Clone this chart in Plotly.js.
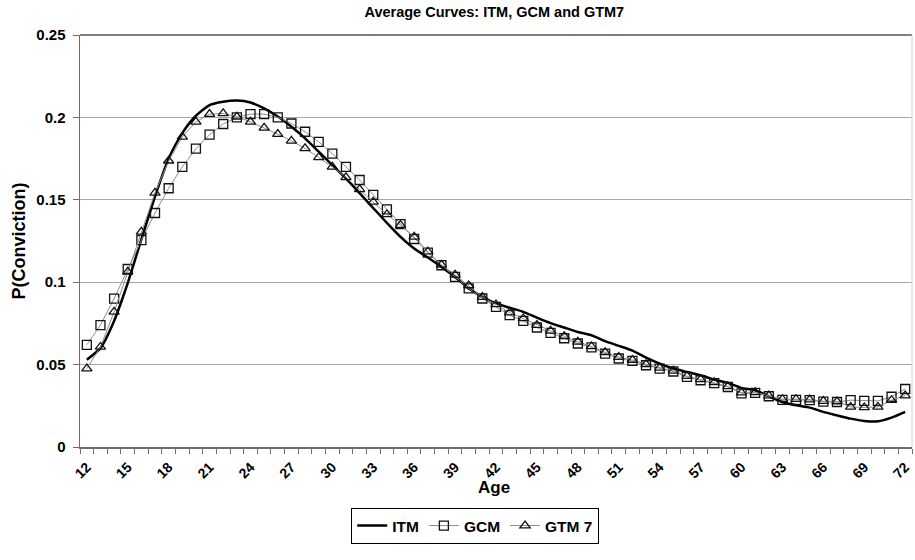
<!DOCTYPE html>
<html>
<head>
<meta charset="utf-8">
<script src="https://cdn.plot.ly/plotly-3.0.1.min.js"></script>
<style>html,body{margin:0;padding:0;background:#fff;}#chart{width:915px;height:560px;}</style>
</head>
<body>
<div id="chart"></div>
<script>
// Ages 12..72
var ages = [12,13,14,15,16,17,18,19,20,21,22,23,24,25,26,27,28,29,30,31,32,33,34,35,36,37,38,39,40,41,42,43,44,45,46,47,48,49,50,51,52,53,54,55,56,57,58,59,60,61,62,63,64,65,66,67,68,69,70,71,72];

var itm = [0.053,0.060,0.0765,0.0995,0.126,0.152,0.175,0.1905,0.201,0.2075,0.2095,0.2102,0.209,0.2055,0.2005,0.1943,0.1873,0.1792,0.171,0.163,0.154,0.145,0.136,0.1275,0.1204,0.115,0.1093,0.1032,0.0962,0.0911,0.0871,0.0845,0.082,0.0785,0.0752,0.0725,0.0698,0.0678,0.0642,0.0614,0.0585,0.0542,0.0506,0.0476,0.0455,0.0435,0.0409,0.0389,0.0358,0.0344,0.0308,0.0273,0.0253,0.0239,0.0213,0.0192,0.0172,0.0158,0.0156,0.0178,0.0213];

var gcm = [0.062,0.074,0.090,0.108,0.1255,0.142,0.157,0.170,0.181,0.1895,0.196,0.200,0.202,0.202,0.200,0.1963,0.1913,0.1852,0.178,0.170,0.162,0.153,0.1442,0.1352,0.1262,0.118,0.1103,0.1032,0.0962,0.0901,0.085,0.080,0.0765,0.0725,0.0692,0.066,0.0628,0.0604,0.0567,0.0537,0.0522,0.0496,0.0476,0.0458,0.0425,0.0405,0.0387,0.0364,0.0326,0.0328,0.0308,0.0286,0.0286,0.0284,0.0275,0.0273,0.0284,0.028,0.028,0.0305,0.0352];

var gtm7 = [0.0476,0.0607,0.082,0.1063,0.1305,0.1542,0.1737,0.1882,0.1973,0.202,0.2024,0.2004,0.1973,0.1937,0.1899,0.1858,0.1812,0.1757,0.170,0.1636,0.1563,0.1488,0.1411,0.1346,0.1275,0.1185,0.1105,0.1045,0.098,0.091,0.0865,0.0815,0.078,0.074,0.0705,0.0672,0.0638,0.061,0.0575,0.0545,0.0528,0.0502,0.048,0.0462,0.043,0.041,0.0392,0.0368,0.033,0.0332,0.0312,0.029,0.029,0.0288,0.0278,0.0276,0.0243,0.024,0.0243,0.0284,0.0312];

var xTickVals = [12,15,18,21,24,27,30,33,36,39,42,45,48,51,54,57,60,63,66,69,72];
var xTickText = ["12","15","18","21","24","27","30","33","36","39","42","45","48","51","54","57","60","63","66","69","72"];
var yTickVals = [0,0.05,0.1,0.15,0.2,0.25];
var yTickText = ["0","0.05","0.1","0.15","0.2","0.25"];

var FONT = "Liberation Sans, Arial, sans-serif";

var traces = [
  {x: ages, y: itm, name: "ITM", type: "scatter", mode: "lines",
   line: {color: "#000", width: 2.5, shape: "spline", smoothing: 0.6}},
  {x: ages, y: gcm, name: "GCM", type: "scatter", mode: "lines+markers",
   line: {color: "#8c8c8c", width: 1},
   marker: {symbol: "square-open", size: 9, color: "#111", line: {width: 1.3, color: "#111"}}},
  {x: ages, y: gtm7, name: "GTM 7", type: "scatter", mode: "lines+markers",
   line: {color: "#8c8c8c", width: 1},
   marker: {symbol: "triangle-up-open", size: 9, color: "#111", line: {width: 1.3, color: "#111"}}}
];

var layout = {
  width: 915, height: 560,
  margin: {l: 80, r: 3, t: 35, b: 113},
  paper_bgcolor: "#fff", plot_bgcolor: "#fff",
  font: {family: FONT, color: "#000", size: 12},
  title: {text: "Average Curves: ITM, GCM and GTM7", x: 0.498, xref: "paper", xanchor: "center", y: 0.978, yanchor: "middle",
          font: {family: FONT, size: 14.5, weight: "bold", color: "#000"}},
  xaxis: {
    range: [11.5, 72.5], tickmode: "array", tickvals: xTickVals, ticktext: xTickText,
    tickangle: -45, ticks: "", showgrid: false, zeroline: false,
    showline: true, linecolor: "#6e6e6e", linewidth: 1.5,
    ticklabelstandoff: 5,
    tickfont: {family: FONT, size: 14, weight: "bold"},
    minor: {ticks: "outside", tickmode: "linear", tick0: 11.5, dtick: 1, ticklen: 5, tickcolor: "#6e6e6e", showgrid: false},
    automargin: false
  },
  yaxis: {
    range: [0, 0.25], tickmode: "array", tickvals: yTickVals, ticktext: yTickText,
    ticks: "outside", ticklen: 6, tickcolor: "#6e6e6e",
    showgrid: true, gridcolor: "#a6a6a6", gridwidth: 1, zeroline: false,
    showline: true, linecolor: "#6e6e6e", linewidth: 1.5,
    ticklabelstandoff: 4,
    tickfont: {family: FONT, size: 15, weight: "bold"},
    title: {text: "P(Conviction)", standoff: 6, font: {family: FONT, size: 18, weight: "bold"}}
  },
  annotations: [
    {text: "Age", xref: "paper", yref: "paper", x: 0.498, y: -0.099, xanchor: "center", yanchor: "middle",
     showarrow: false, font: {family: FONT, size: 17, weight: "bold", color: "#000"}}
  ],
  shapes: [
    {type: "line", xref: "paper", yref: "paper", x0: 0, x1: 1, y0: 1, y1: 1, line: {color: "#555", width: 1.5}},
    {type: "line", xref: "paper", yref: "paper", x0: 1, x1: 1, y0: 0, y1: 1, line: {color: "#d0d0d0", width: 1}}
  ],
  legend: {
    orientation: "h", x: 0.475, xanchor: "center", y: -0.148, yanchor: "top",
    bordercolor: "#000", borderwidth: 1, bgcolor: "#fff",
    font: {family: FONT, size: 15.5, weight: "bold"},
    itemwidth: 30, tracegroupgap: 0
  },
  showlegend: true
};

Plotly.newPlot("chart", traces, layout, {displayModeBar: false, staticPlot: true});
</script>
</body>
</html>
